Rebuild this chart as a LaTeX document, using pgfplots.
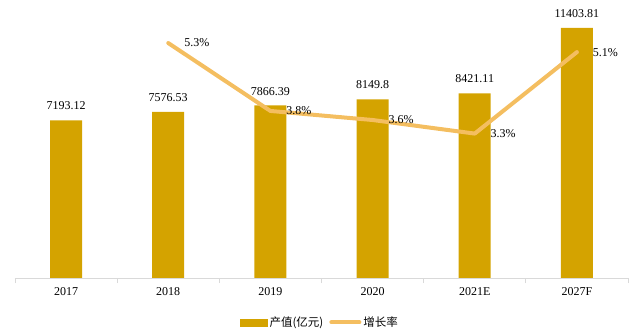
\documentclass[border=0pt]{standalone}
\usepackage{pgfplots}
\pgfplotsset{compat=1.18}
\usepackage{fontspec}
\setmainfont{Liberation Serif}
\newfontfamily\cjk{Noto Sans CJK SC}
\definecolor{barc}{RGB}{212,163,0}
\definecolor{linec}{RGB}{244,190,96}
\definecolor{axc}{RGB}{217,217,217}
\begin{document}
\begin{tikzpicture}
\begin{axis}[
 at={(0pt,0pt)}, anchor=south west,
 scale only axis, width=613pt, height=268pt,
 xmin=-0.5, xmax=5.5, ymin=0, ymax=12221,
 clip=false,
 axis x line*=bottom, axis y line=none,
 x axis line style={axc, line width=0.8pt, -},
 xtick={0,...,5},
 xticklabels={2017,2018,2019,2020,2021E,2027F},
 major tick length=0pt,
 extra x ticks={-0.5,0.5,1.5,2.5,3.5,4.5,5.5},
 extra x tick labels={},
 extra x tick style={major tick length=5pt, tick align=outside, tick style={axc, line width=0.8pt}},
 xticklabel style={font=\fontsize{12}{13}\selectfont, anchor=north, yshift=-6pt},
]
\addplot[ybar, bar width=32pt, fill=barc, draw=none,
 nodes near coords, point meta=explicit symbolic,
 every node near coord/.append style={font=\fontsize{12}{13}\selectfont, text=black, anchor=south, inner sep=0pt, yshift=10pt}]
 table[meta=label] {
x y label
0 7193.12 7193.12
1 7576.53 7576.53
2 7866.39 7866.39
3 8149.8 8149.8
4 8421.11 8421.11
5 11403.81 11403.81
};
\end{axis}
\begin{axis}[
 at={(0pt,0pt)}, anchor=south west,
 scale only axis, width=613pt, height=268pt,
 xmin=-0.5, xmax=5.5, ymin=0.11, ymax=6.03,
 clip=false, hide axis,
 legend style={at={(0.4976,-0.165)}, anchor=center, draw=none, fill=none,
   legend columns=2, font=\cjk\fontsize{11.5}{12}\selectfont,
   /tikz/every even column/.append style={column sep=4pt}},
]
\addlegendimage{legend image code/.code={\fill[barc] (0pt,-3.5pt) rectangle (27pt,3.5pt);}}
\addlegendentry{产值(亿元)}
\addplot[linec, line width=4pt, line join=round, line cap=round,
 nodes near coords={\pgfplotspointmeta\%}, point meta=explicit symbolic,
 nodes near coords align={anchor=west},
 every node near coord/.append style={font=\fontsize{12}{13}\selectfont, text=black, anchor=west, inner sep=0pt, xshift=14pt},
 legend image code/.code={\draw[linec, line width=4pt, line cap=round] (0pt,0pt) -- (28pt,0pt);}]
 table[meta=label] {
x y label
1 5.3 5.3
2 3.8 3.8
3 3.6 3.6
4 3.3 3.3
5 5.1 5.1
};
\addlegendentry{增长率}
\end{axis}
\pgfresetboundingbox
\path[use as bounding box] (-15pt,-54pt) rectangle (628pt,278pt);
\end{tikzpicture}
\end{document}
